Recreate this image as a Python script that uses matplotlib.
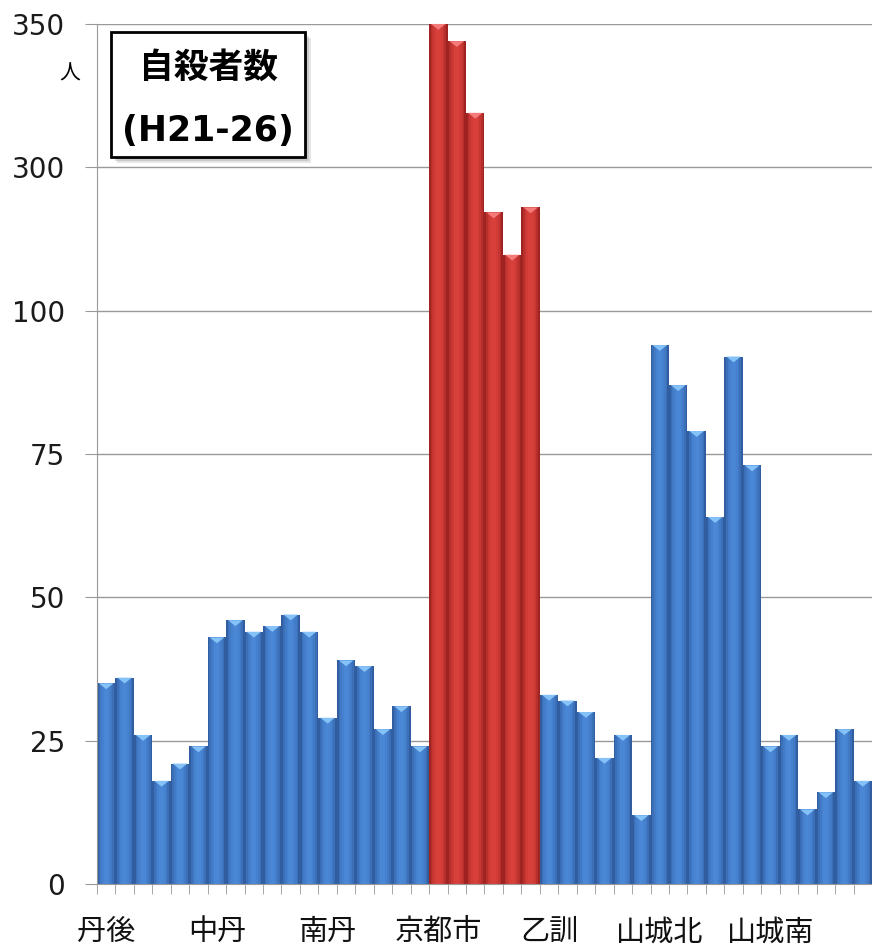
import numpy as np
import matplotlib.pyplot as plt
from matplotlib.path import Path
from matplotlib.patches import Rectangle

# suicides per health-care region, one bar per year H21..H26
regions = ['丹後', '中丹', '南丹', '京都市', '乙訓', '山城北', '山城南']
tango = [35, 36, 26, 18, 21, 24]
chutan = [43, 46, 44, 45, 47, 44]
nantan = [29, 39, 38, 27, 31, 24]
kyoto_city = [350, 344, 319, 237, 178, 244]
otokuni = [33, 32, 30, 22, 26, 12]
yamashiro_n = [94, 87, 79, 64, 92, 73]
yamashiro_s = [24, 26, 13, 16, 27, 18]

y_ticks = [0, 25, 50, 75, 100, 300, 350]

series = [tango, chutan, nantan, kyoto_city, otokuni, yamashiro_n, yamashiro_s]
values = np.array([v for s in series for v in s], dtype=float)
n_years = len(tango)
x = np.arange(len(values))
is_city = np.repeat([r == '京都市' for r in regions], n_years)


# broken axis: every tick interval gets the same height
def fwd(v):
    return np.interp(v, y_ticks, np.arange(len(y_ticks)))


def inv(p):
    return np.interp(p, np.arange(len(y_ticks)), y_ticks)


plt.rcParams['font.family'] = ['DejaVu Sans', 'Noto Sans CJK JP']
cjk = ['Noto Sans CJK JP', 'DejaVu Sans']

fig = plt.figure(figsize=(8.72, 9.47), dpi=100)
ax = fig.add_axes([0.1112, 0.0665, 0.8888, 0.9082])
ax.set_yscale('function', functions=(fwd, inv))

# cylinder look: each bar is made of thin strips, dark at the edges
blue_dark, blue_light = np.array([0.14, 0.28, 0.52]), np.array([0.29, 0.53, 0.84])
red_dark, red_light = np.array([0.50, 0.08, 0.08]), np.array([0.85, 0.25, 0.23])
n_strips = 11
sw = 1.0 / n_strips
for i in range(n_strips):
    t = (i + 0.5) / n_strips
    s = np.sin(np.pi * t) ** 0.55
    cb = blue_dark + (blue_light - blue_dark) * s
    cr = red_dark + (red_light - red_dark) * s
    cols = [cr if c else cb for c in is_city]
    ax.bar(x - 0.5 + (i + 0.5) * sw, values, width=sw * 1.02, color=cols,
           linewidth=0, zorder=2)

# light bevel cap on top of each bar
cap = Path([(-1, 0), (1, 0), (0, -0.8), (-1, 0)],
           [Path.MOVETO, Path.LINETO, Path.LINETO, Path.CLOSEPOLY])
cap_cols = [(0.96, 0.48, 0.48) if c else (0.52, 0.76, 0.97) for c in is_city]
ax.scatter(x, values, marker=cap, s=10.5 ** 2, c=cap_cols, linewidths=0,
           zorder=3, clip_on=False)

ax.set_xlim(-0.5, len(values) - 0.5)
ax.set_ylim(0, 350)
ax.set_yticks(y_ticks)
ax.yaxis.grid(True, color='#999999', linewidth=1)
ax.set_axisbelow(True)

ax.set_xticks(np.arange(0, len(values), n_years), regions, fontsize=21,
              family=cjk)
ax.set_xticks(np.arange(-0.5, len(values), 1), minor=True)
ax.tick_params(axis='x', which='major', length=0, pad=24, colors='#111111')
ax.tick_params(axis='x', which='minor', length=7, color='#999999')
ax.tick_params(axis='y', length=9, color='#999999', pad=14, labelsize=20,
               labelcolor='#1a1a1a')

for side in ('top', 'right'):
    ax.spines[side].set_visible(False)
for side in ('left', 'bottom'):
    ax.spines[side].set_color('#999999')

fig.text(0.080, 0.922, '人', fontsize=15, family=cjk, ha='center', va='center')

# title box with a soft drop shadow
bx, by, bw, bh = 0.1273, 0.8345, 0.2225, 0.132
for k, a in enumerate([0.10, 0.12, 0.16]):
    off = (6 - 2 * k) / 872
    fig.add_artist(Rectangle((bx + off, by - off * 872 / 947), bw, bh,
                             transform=fig.transFigure, facecolor='black',
                             edgecolor='none', alpha=a, zorder=4))
fig.add_artist(Rectangle((bx, by), bw, bh, transform=fig.transFigure,
                         facecolor='white', edgecolor='black', linewidth=2,
                         zorder=5))
fig.text(bx + bw / 2, 0.929, '自殺者数', fontsize=25, fontweight='bold',
         family=cjk, ha='center', va='center', zorder=6)
fig.text(bx + bw / 2, 0.862, '(H21-26)', fontsize=25, fontweight='bold',
         family='DejaVu Sans', ha='center', va='center', zorder=6)

fig.savefig('out.png', dpi=100)
